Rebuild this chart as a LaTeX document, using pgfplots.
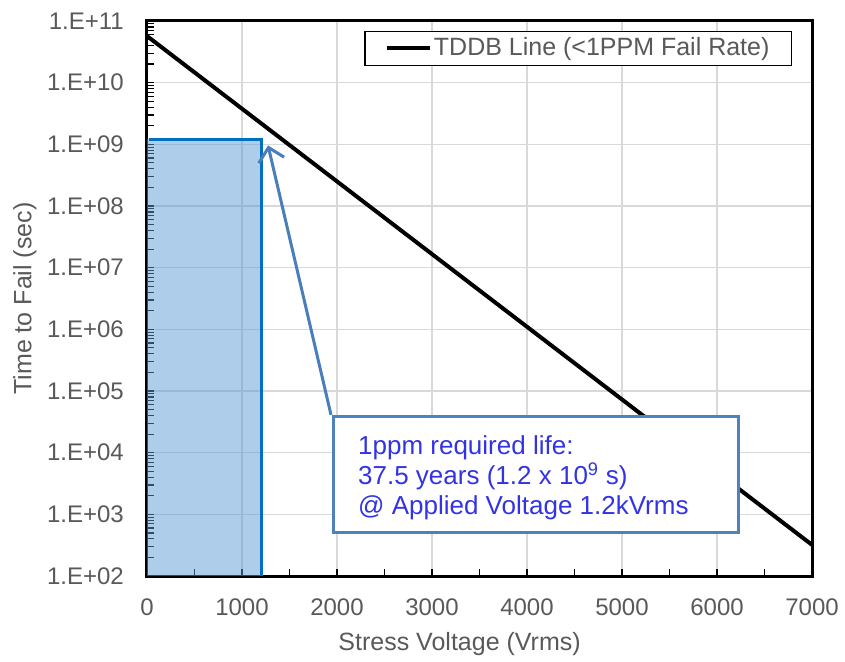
\documentclass[border=0pt]{standalone}
\usepackage{fontspec}
\setmainfont{Liberation Sans}
\usepackage{pgfplots}
\pgfplotsset{compat=1.18}
\usetikzlibrary{arrows.meta}

\definecolor{tickgray}{HTML}{595959}
\definecolor{gridc}{HTML}{D9D9D9}
\definecolor{boxblue}{HTML}{4F81BD}
\definecolor{txtblue}{HTML}{3333E6}
\definecolor{rectedge}{HTML}{0070C0}
\definecolor{rectfill}{HTML}{5B9BD5}
\definecolor{arrowblue}{HTML}{4A7EBB}

\begin{document}
\fontsize{24bp}{29bp}\selectfont
\begin{tikzpicture}
\begin{semilogyaxis}[
  scale only axis, width=665bp, height=555bp,
  xmin=0, xmax=7000, ymin=1e2, ymax=1e11,
  xtick={0,1000,2000,3000,4000,5000,6000,7000},
  xticklabels={0,1000,2000,3000,4000,5000,6000,7000},
  minor xtick={500,1500,2500,3500,4500,5500,6500},
  ytick={1e2,1e3,1e4,1e5,1e6,1e7,1e8,1e9,1e10,1e11},
  yticklabels={1.E+02,1.E+03,1.E+04,1.E+05,1.E+06,1.E+07,1.E+08,1.E+09,1.E+10,1.E+11},
  minor ytick={
    2e2,3e2,4e2,5e2,6e2,7e2,8e2,9e2,
    2e3,3e3,4e3,5e3,6e3,7e3,8e3,9e3,
    2e4,3e4,4e4,5e4,6e4,7e4,8e4,9e4,
    2e5,3e5,4e5,5e5,6e5,7e5,8e5,9e5,
    2e6,3e6,4e6,5e6,6e6,7e6,8e6,9e6,
    2e7,3e7,4e7,5e7,6e7,7e7,8e7,9e7,
    2e8,3e8,4e8,5e8,6e8,7e8,8e8,9e8,
    2e9,3e9,4e9,5e9,6e9,7e9,8e9,9e9,
    2e10,3e10,4e10,5e10,6e10,7e10,8e10,9e10},
  /pgf/number format/assume math mode=true,
  xmajorgrids, ymajorgrids,
  major grid style={gridc, line width=1.3bp},
  axis line style={line width=3bp},
  every tick/.style={black, line width=1.2bp},
  major tick length=7bp, minor tick length=7bp,
  tick align=inside,
  xtick pos=left, ytick pos=left,
  ticklabel style={text=tickgray, font=\fontsize{24bp}{29bp}\selectfont},
  xticklabel style={yshift=-15bp},
  yticklabel style={xshift=-15bp},
  xlabel={Stress Voltage (Vrms)},
  ylabel={Time to Fail (sec)},
  every axis x label/.style={at={(axis description cs:0.47,-0.122)}, anchor=center,
    text=tickgray, font=\fontsize{25bp}{30bp}\selectfont},
  every axis y label/.style={at={(axis description cs:-0.1835,0.5)}, rotate=90, anchor=center,
    text=tickgray, font=\fontsize{25bp}{30bp}\selectfont},
  legend style={at={(0.97,0.982)}, anchor=north east, draw=black, line width=1.2bp,
    text=tickgray, font=\fontsize{25bp}{30bp}\selectfont,
    inner xsep=20bp, inner ysep=4bp},
  legend image code/.code={\draw[black, line width=4bp] (0bp,0bp) -- (43bp,0bp);},
]
% shaded region up to the required life
\addplot[draw=none, fill=rectfill, fill opacity=0.5, forget plot]
  coordinates {(0,1e2) (0,1.2e9) (1200,1.2e9) (1200,1e2)} -- cycle;
\addplot[rectedge, line width=3bp, forget plot]
  coordinates {(16,1.2e9) (1200,1.2e9) (1200,1e2)};

% TDDB line
\addplot[black, line width=4bp] coordinates {(0,5.7e10) (7000,3.2e2)};
\addlegendentry{TDDB Line (<1PPM Fail Rate)}

% annotation arrow and box
\draw[arrowblue, line width=3bp, -{Straight Barb[length=13bp, width=26bp]}]
  (axis cs:1937,4.1e4) -- (axis cs:1274,9.6e8);
\draw[boxblue, line width=3bp, fill=white]
  (axis cs:1958,3.82e4) rectangle (axis cs:6221,5.04e2);
\node[anchor=base west, inner sep=0, text=txtblue, font=\fontsize{26bp}{30bp}\selectfont]
  at (axis cs:2221,9183) {1ppm required life:};
\node[anchor=base west, inner sep=0, text=txtblue, font=\fontsize{26bp}{30bp}\selectfont]
  at (axis cs:2221,2992) {37.5 years (1.2 x 10\textsuperscript{9} s)};
\node[anchor=base west, inner sep=0, text=txtblue, font=\fontsize{26bp}{30bp}\selectfont]
  at (axis cs:2221,977) {@ Applied Voltage 1.2kVrms};

\coordinate (bl) at ([shift={(-147bp,-85bp)}]rel axis cs:0,0);
\coordinate (tr) at ([shift={(33bp,21bp)}]rel axis cs:1,1);
\end{semilogyaxis}
\pgfresetboundingbox
\path[use as bounding box] (bl) rectangle (tr);
\end{tikzpicture}
\end{document}
